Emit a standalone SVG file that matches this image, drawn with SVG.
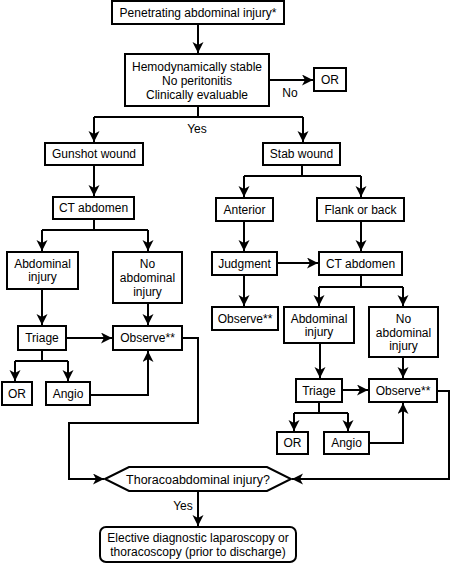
<svg xmlns="http://www.w3.org/2000/svg" width="452" height="563" viewBox="0 0 452 563">
<defs>
<marker id="ah" markerUnits="userSpaceOnUse" markerWidth="12" markerHeight="12" refX="11" refY="5.5" orient="auto">
<path d="M0,0 L11,5.5 L0,11 L3,5.5 z" fill="#000"/>
</marker>
<style>
.b{fill:#fff;stroke:#000;stroke-width:2}
.t{font-family:"Liberation Sans",Arial,Helvetica,sans-serif;font-size:12px;text-anchor:middle;fill:#000}
.c path{fill:none;stroke:#000;stroke-width:2}
.c .a{marker-end:url(#ah)}
</style>
</defs>
<rect width="452" height="563" fill="#fff"/>
<g class="c" id="connectors">
<path class="a" d="M198,24 V53"/>
<path class="a" d="M269,80 H313"/>
<path d="M198,106 V117 M94,117 H303"/>
<path class="a" d="M94,117 V142"/>
<path class="a" d="M303,117 V142"/>
<path class="a" d="M94,165 V196"/>
<path d="M94,219 V230 M42,230 H148"/>
<path class="a" d="M42,230 V251"/>
<path class="a" d="M148,230 V251"/>
<path class="a" d="M42,289 V325"/>
<path class="a" d="M148,303 V325"/>
<path class="a" d="M66,338 H112"/>
<path d="M42,350 V361 M15,361 H68"/>
<path class="a" d="M15,361 V381"/>
<path class="a" d="M68,361 V381"/>
<path class="a" d="M90,395 H148 V351"/>
<path class="a" d="M182,338 H198 V423 H69 V479 H104"/>
<path d="M302,165 V176 M244,176 H361"/>
<path class="a" d="M244,176 V197"/>
<path class="a" d="M361,176 V197"/>
<path class="a" d="M244,221 V251"/>
<path class="a" d="M361,221 V251"/>
<path class="a" d="M277,263 H318"/>
<path class="a" d="M244,275 V306"/>
<path d="M361,275 V287 M319,287 H403"/>
<path class="a" d="M319,287 V306"/>
<path class="a" d="M403,287 V306"/>
<path class="a" d="M320,343 V378"/>
<path class="a" d="M403,357 V378"/>
<path class="a" d="M342,390 H368"/>
<path d="M319,402 V413 M294,413 H348"/>
<path class="a" d="M294,413 V431"/>
<path class="a" d="M348,413 V431"/>
<path class="a" d="M369,443 H403 V403"/>
<path class="a" d="M437,391 H449 V479 H292"/>
<path class="a" d="M198,491 V526"/>
</g>
<g id="labels">
<text class="t" x="290" y="97">No</text>
<text class="t" x="197" y="133">Yes</text>
<text class="t" x="183" y="510">Yes</text>
</g>
<g id="n_top"><rect class="b" x="112" y="1" width="172" height="23"/><text class="t" x="198" y="17">Penetrating abdominal injury*</text></g>
<g id="n_stable"><rect class="b" x="125" y="54" width="144" height="52"/><text class="t" x="197" y="71">Hemodynamically stable</text><text class="t" x="197" y="85">No peritonitis</text><text class="t" x="197" y="99">Clinically evaluable</text></g>
<g id="n_or_top"><rect class="b" x="314" y="68" width="32" height="23"/><text class="t" x="330" y="84">OR</text></g>
<g id="n_gunshot"><rect class="b" x="45" y="143" width="98" height="22"/><text class="t" x="94" y="158">Gunshot wound</text></g>
<g id="n_stab"><rect class="b" x="263" y="143" width="77" height="22"/><text class="t" x="301.5" y="158">Stab wound</text></g>
<g id="n_ct_l"><rect class="b" x="53" y="197" width="81" height="22"/><text class="t" x="93.5" y="212">CT abdomen</text></g>
<g id="n_abd_l"><rect class="b" x="7" y="252" width="71" height="37"/><text class="t" x="42.5" y="268">Abdominal</text><text class="t" x="42.5" y="281">injury</text></g>
<g id="n_noabd_l"><rect class="b" x="113" y="252" width="69" height="51"/><text class="t" x="147.5" y="268">No</text><text class="t" x="147.5" y="282">abdominal</text><text class="t" x="147.5" y="296">injury</text></g>
<g id="n_triage_l"><rect class="b" x="18" y="326" width="48" height="24"/><text class="t" x="42" y="342">Triage</text></g>
<g id="n_obs_l"><rect class="b" x="113" y="326" width="69" height="24"/><text class="t" x="147.5" y="342">Observe**</text></g>
<g id="n_or_l"><rect class="b" x="2" y="382" width="30" height="23"/><text class="t" x="17" y="398">OR</text></g>
<g id="n_angio_l"><rect class="b" x="46" y="382" width="44" height="23"/><text class="t" x="68" y="398">Angio</text></g>
<g id="n_anterior"><rect class="b" x="216" y="198" width="57" height="23"/><text class="t" x="244.5" y="214">Anterior</text></g>
<g id="n_flank"><rect class="b" x="317" y="198" width="87" height="23"/><text class="t" x="360.5" y="214">Flank or back</text></g>
<g id="n_judgment"><rect class="b" x="212" y="252" width="65" height="23"/><text class="t" x="244.5" y="268">Judgment</text></g>
<g id="n_ct_r"><rect class="b" x="319" y="252" width="83" height="23"/><text class="t" x="360.5" y="268">CT abdomen</text></g>
<g id="n_obs_m"><rect class="b" x="212" y="307" width="66" height="23"/><text class="t" x="245" y="323">Observe**</text></g>
<g id="n_abd_r"><rect class="b" x="284" y="307" width="70" height="36"/><text class="t" x="319" y="323">Abdominal</text><text class="t" x="319" y="336">injury</text></g>
<g id="n_noabd_r"><rect class="b" x="369" y="307" width="69" height="50"/><text class="t" x="403.5" y="323">No</text><text class="t" x="403.5" y="337">abdominal</text><text class="t" x="403.5" y="350">injury</text></g>
<g id="n_triage_r"><rect class="b" x="296" y="379" width="46" height="23"/><text class="t" x="319" y="395">Triage</text></g>
<g id="n_obs_r"><rect class="b" x="369" y="379" width="68" height="23"/><text class="t" x="403" y="395">Observe**</text></g>
<g id="n_or_r"><rect class="b" x="277" y="432" width="31" height="22"/><text class="t" x="292.5" y="447">OR</text></g>
<g id="n_angio_r"><rect class="b" x="324" y="432" width="45" height="22"/><text class="t" x="346.5" y="447">Angio</text></g>
<g id="n_thoraco"><polygon class="b" points="105,479 129,467 267,467 291,479 267,491 129,491"/><text class="t" x="198" y="484" style="font-size:12.5px">Thoracoabdominal injury?</text></g>
<g id="n_elective"><rect class="b" x="100" y="527" width="196" height="35" rx="6"/><text class="t" x="198" y="542">Elective diagnostic laparoscopy or</text><text class="t" x="198" y="556">thoracoscopy (prior to discharge)</text></g>
</svg>
